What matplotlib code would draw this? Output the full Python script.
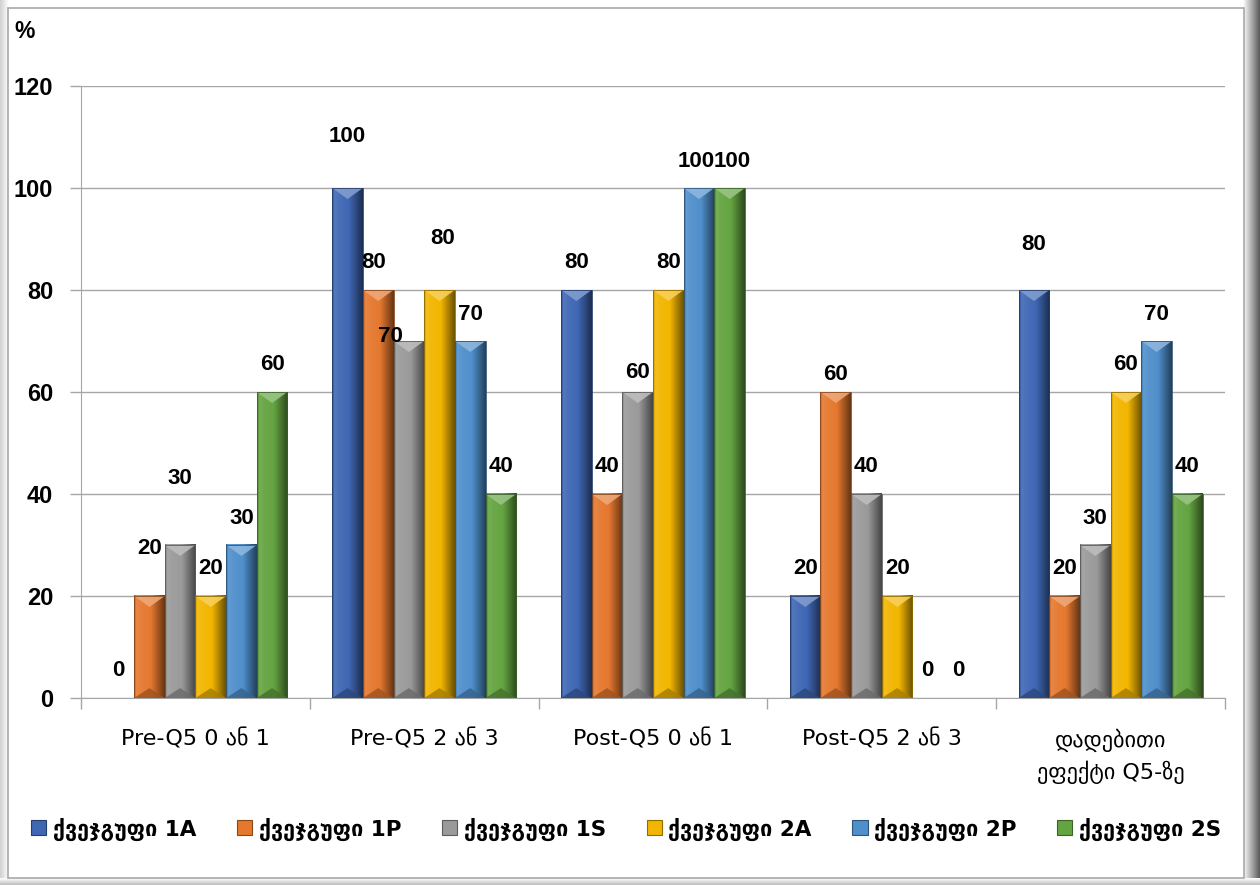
import numpy as np
import matplotlib
matplotlib.use("Agg")
import matplotlib.pyplot as plt
from matplotlib.patches import Polygon, Patch, Rectangle
from matplotlib.colors import to_rgb

# ---- data ----
categories = ["Pre-Q5 0 ან 1", "Pre-Q5 2 ან 3", "Post-Q5 0 ან 1",
              "Post-Q5 2 ან 3", "დადებითი\nეფექტი Q5-ზე"]
series_names = ["ქვეჯგუფი 1A", "ქვეჯგუფი 1P", "ქვეჯგუფი 1S",
                "ქვეჯგუფი 2A", "ქვეჯგუფი 2P", "ქვეჯგუფი 2S"]
group_1A = [0, 100, 80, 20, 80]
group_1P = [20, 80, 40, 60, 20]
group_1S = [30, 70, 60, 40, 30]
group_2A = [20, 80, 80, 20, 60]
group_2P = [30, 70, 100, 0, 70]
group_2S = [60, 40, 100, 0, 40]
y_ticks = [0, 20, 40, 60, 80, 100, 120]

series_values = [group_1A, group_1P, group_1S, group_2A, group_2P, group_2S]
colors = ["#3F67B4", "#E5782F", "#9A9A9A", "#F2B600", "#4F8FCB", "#64A441"]

NUM_FONT = ["Liberation Sans", "DejaVu Sans"]

# individual label nudges (pixels) for labels that sit away from the default spot
label_nudge = {
    (1, 0): (0, 20), (2, 0): (0, 39),
    (0, 1): (0, 25), (1, 1): (-5, 0), (2, 1): (-18, -22), (3, 1): (3, 25),
    (2, 2): (0, -7), (4, 2): (-3, 0), (5, 2): (3, 0),
    (1, 3): (0, -10), (0, 4): (0, 18),
}

W, H = 1260, 885
fig = plt.figure(figsize=(W / 100, H / 100), dpi=100)

# ---- frame around the chart ----
bg = fig.add_axes([0, 0, 1, 1], zorder=-5)
bg.set_xlim(0, W)
bg.set_ylim(H, 0)
bg.axis("off")
rs = np.linspace(1.0, 0.35, 40)[None, :]
bg.imshow(np.dstack([rs, rs, rs]), extent=(1243, 1260, 885, 0), aspect="auto",
          interpolation="bilinear")
ls = np.linspace(0.82, 1.0, 20)[None, :]
bg.imshow(np.dstack([ls, ls, ls]), extent=(0, 9, 885, 0), aspect="auto",
          interpolation="bilinear")
bs = np.linspace(1.0, 0.75, 10)[:, None]
bg.imshow(np.dstack([bs, bs, bs]), extent=(0, 1260, 885, 878), aspect="auto",
          interpolation="bilinear")
bg.add_patch(Rectangle((8, 8), 1236, 870, facecolor="white", edgecolor="#A8A8A8", lw=1.2))
bg.set_xlim(0, W)
bg.set_ylim(H, 0)
bg.text(14, 32, "%", fontsize=16.5, fontweight="bold", family=NUM_FONT,
        va="center", ha="left")

# ---- main axes ----
ax = fig.add_axes([81 / W, 1 - 698 / H, (1225 - 81) / W, (698 - 86) / H])
ax.set_facecolor("none")
n_cat = len(categories)
n_ser = len(series_names)
bar_w = 0.134
x = np.arange(n_cat)

ax_h_px = 698 - 86
px_per_unit = ax_h_px / 120.0
bevel = 11 / px_per_unit


def shade(c, f):
    r = np.array(to_rgb(c))
    if f >= 1:
        return tuple(r + (1 - r) * (f - 1))
    return tuple(r * f)


prof_pos = np.array([0.0, 0.07, 0.2, 0.55, 0.78, 1.0])
prof_fac = np.array([0.72, 1.12, 1.06, 1.0, 0.72, 0.45])
xs = np.linspace(0, 1, 64)
fac = np.interp(xs, prof_pos, prof_fac)

for si, (vals, col) in enumerate(zip(series_values, colors)):
    grad = np.array([shade(col, f) for f in fac])[None, :, :]
    grad = np.clip(grad, 0, 1)
    for ci, v in enumerate(vals):
        xc = x[ci] + (si - (n_ser - 1) / 2) * bar_w
        x0, x1 = xc - bar_w / 2, xc + bar_w / 2
        if v > 0:
            ax.imshow(grad, extent=(x0, x1, 0, v), aspect="auto",
                      interpolation="bilinear", zorder=3)
            d = min(bevel, v / 2)
            ax.add_patch(Polygon([(x0, v), (x1, v), (xc, v - d)], closed=True,
                                 facecolor=np.clip(shade(col, 1.35), 0, 1),
                                 edgecolor="none", alpha=0.9, zorder=4))
            ax.add_patch(Polygon([(x0, 0), (x1, 0), (xc, d * 0.9)], closed=True,
                                 facecolor=shade(col, 0.7), edgecolor="none",
                                 alpha=0.85, zorder=4))
            ax.add_patch(Rectangle((x0, 0), bar_w, v, facecolor="none",
                                   edgecolor=shade(col, 0.6), lw=0.6, zorder=5))
        dx, dy = label_nudge.get((si, ci), (0, 0))
        ax.annotate(str(v), xy=(xc, v), xytext=(dx, 27 + dy),
                    textcoords="offset pixels", ha="center", va="center",
                    fontsize=16, fontweight="bold", family=NUM_FONT, zorder=6)

ax.set_xlim(-0.5, n_cat - 0.5)
ax.set_ylim(0, 120)
ax.set_yticks(y_ticks)
ax.set_yticklabels([str(t) for t in y_ticks], fontsize=17, fontweight="bold",
                   family=NUM_FONT)
ax.yaxis.grid(True, color="#A6A6A6", lw=1.0, zorder=0)
ax.set_axisbelow(True)
ax.tick_params(axis="y", length=8, width=1, color="#A6A6A6", pad=12)

ax.set_xticks(x)
ax.set_xticklabels(categories, fontsize=16, family=["DejaVu Sans"],
                   linespacing=1.5)
ax.set_xticks(np.arange(n_cat + 1) - 0.5, minor=True)
ax.tick_params(axis="x", which="major", length=0, pad=22)
ax.tick_params(axis="x", which="minor", length=8, width=1, color="#A6A6A6")
for lbl in ax.get_xticklabels():
    lbl.set_verticalalignment("top")

for s in ["top", "right"]:
    ax.spines[s].set_visible(False)
ax.spines["left"].set_color("#A6A6A6")
ax.spines["bottom"].set_color("#A6A6A6")

# ---- legend ----
handles = [Patch(facecolor=c, edgecolor=shade(c, 0.6), lw=0.8) for c in colors]
leg = fig.legend(handles, series_names, loc="center", bbox_to_anchor=(0.497, 1 - 829 / H),
                 ncol=6, frameon=False, handlelength=0.7, handleheight=0.7,
                 handletextpad=0.3, columnspacing=1.9,
                 prop={"family": ["DejaVu Sans"], "size": 15.5, "weight": "bold"})

fig.savefig("out.png", dpi=100)
